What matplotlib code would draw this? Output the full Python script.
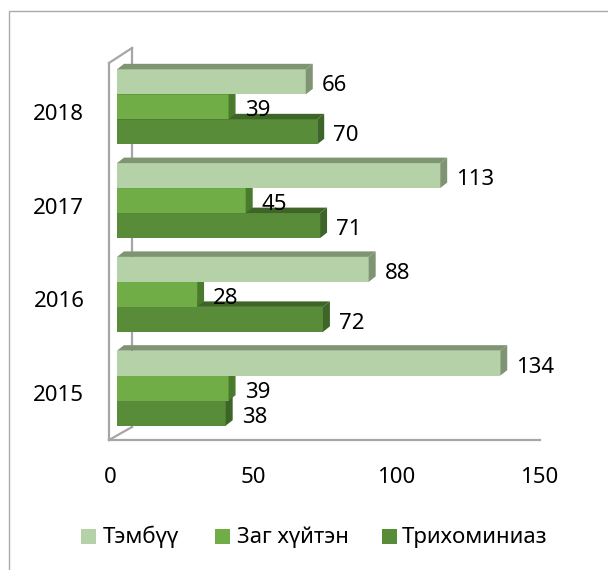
import matplotlib
matplotlib.use("Agg")
import matplotlib.pyplot as plt
from matplotlib.patches import Polygon, Rectangle
from matplotlib.lines import Line2D
from matplotlib.transforms import ScaledTranslation

plt.rcParams['font.family'] = ['Noto Sans', 'DejaVu Sans']

# data
years = ['2015', '2016', '2017', '2018']
series = ['Тэмбүү', 'Заг хүйтэн', 'Трихоминиаз']
tembuu = [134, 88, 113, 66]
zag_huiten = [39, 28, 45, 39]
trihominiaz = [38, 72, 71, 70]
x_ticks = [0, 50, 100, 150]

front_colors = ['#B5D1A8', '#70AD47', '#588C38']
side_colors = ['#7F9472', '#4A7A2C', '#3E6528']
wall_color = '#A6A6A6'

W, H = 608, 570
fig = plt.figure(figsize=(W / 100, H / 100), dpi=100)


def fpos(x, y):  # image pixel -> figure fraction
    return x / W, 1 - y / H


# axes placed so 0..150 sits where the bars are
ax_left, ax_right, ax_top, ax_bot = 117, 546, 31.8, 463.2
ax = fig.add_axes([ax_left / W, 1 - ax_bot / H, (ax_right - ax_left) / W, (ax_bot - ax_top) / H])
ax.set_xlim(0, 150)
ax.set_ylim(-0.8, 3.8)
ax.patch.set_alpha(0)
for s in ax.spines.values():
    s.set_visible(False)

px_x = (ax_right - ax_left) / 150.0
px_y = (ax_bot - ax_top) / 4.6
h = 25 / px_y  # bar thickness
dx = 7 / px_x  # depth of the fake 3d faces
dy = 5.5 / px_y

# walls / floor of the 3d box (pixel coords of the picture)
walls = [
    [(109, 63), (109, 440)],
    [(109, 63), (132, 48)],
    [(132, 48), (132, 427)],
    [(109, 440), (132, 427)],
    [(109, 440), (540, 440)],
]
for seg in walls:
    xs = [fpos(*p)[0] for p in seg]
    ys = [fpos(*p)[1] for p in seg]
    fig.add_artist(Line2D(xs, ys, color=wall_color, lw=1.6, transform=fig.transFigure, zorder=0))

# outer border, only left and top sides visible in the crop
fig.add_artist(Rectangle(fpos(9, 600), (700) / W, (600 - 11) / H, fill=False,
                         ec='#ABABAB', lw=1.0, transform=fig.transFigure, zorder=0))

all_vals = [tembuu, zag_huiten, trihominiaz]
shift = [h, 0, -h]

# draw from the lowest series up so the upper front faces cover top faces below
for k in range(len(years)):
    for i in [2, 1, 0]:
        v = all_vals[i][k]
        yc = k + shift[i]
        y0, y1 = yc - h / 2, yc + h / 2
        ax.barh(yc, v, height=h, color=front_colors[i], zorder=3)
        top = Polygon([(0, y1), (dx, y1 + dy), (v + dx, y1 + dy), (v, y1)],
                      closed=True, fc=side_colors[i], ec='none', zorder=3, clip_on=False)
        side = Polygon([(v, y0), (v, y1), (v + dx, y1 + dy), (v + dx, y0 + dy)],
                       closed=True, fc=side_colors[i], ec='none', zorder=3, clip_on=False)
        ax.add_patch(top)
        ax.add_patch(side)
        ax.annotate(str(v), (v + dx, yc), xytext=(6.5, -3), textcoords='offset points',
                    ha='left', va='center', fontsize=16, color='#000000', zorder=5)

ax.set_yticks(range(len(years)))
ax.set_yticklabels(years, fontsize=16)
ax.set_xticks(x_ticks)
ax.set_xticklabels([str(t) for t in x_ticks], fontsize=16)
ax.tick_params(axis='both', length=0)
ax.tick_params(axis='y', pad=23.5)
ax.tick_params(axis='x', pad=2.5)
for lab in ax.get_yticklabels():
    lab.set_transform(lab.get_transform() + ScaledTranslation(0, -0.05, fig.dpi_scale_trans))
for lab in ax.get_xticklabels():
    lab.set_transform(lab.get_transform() + ScaledTranslation(-0.07, 0, fig.dpi_scale_trans))

# legend
sq_left = [81, 215, 382]
txt_left = [103, 237, 402]
for i, name in enumerate(series):
    fig.add_artist(Rectangle(fpos(sq_left[i], 544), 15 / W, 15 / H, fc=front_colors[i],
                             ec='none', transform=fig.transFigure))
    fig.text(*fpos(txt_left[i], 537), name, fontsize=16, ha='left', va='center')

fig.savefig('out.png', dpi=100)
